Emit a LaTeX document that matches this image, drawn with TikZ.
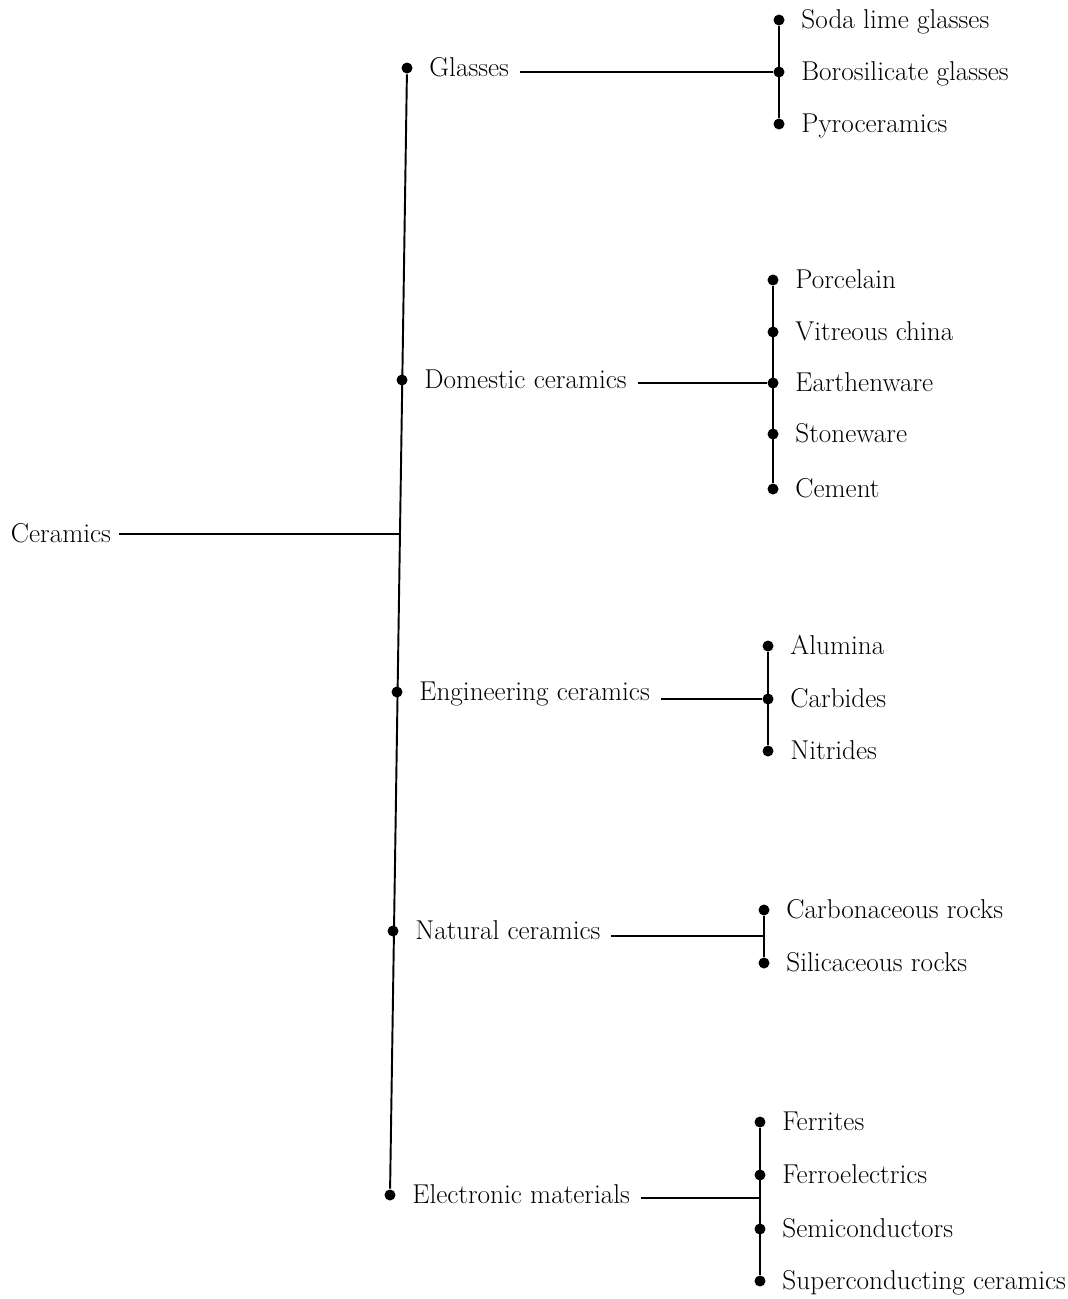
\documentclass[tikz,border=0pt]{standalone}
\usetikzlibrary{positioning,calc}
\tikzset{
  dot/.style={circle,fill=black,inner sep=0pt,minimum size=0.22cm},
  lbl/.style={inner sep=0pt,text height=12pt,text depth=2pt,font=\fontsize{15.5}{18}\selectfont},
}
\begin{document}
\begin{tikzpicture}[x=0.02cm,y=-0.02cm,line width=1.1pt]
\useasboundingbox (0,0) rectangle (1068,1299);
% root
\node[lbl,anchor=west] (ceramics) at (10,534) {Ceramics};
\coordinate (join) at (400,534);
% first level
\node[dot] (glasses) at (407,68) {};
\node[dot] (domestic) at (402,380) {};
\node[dot] (engineering) at (397,692) {};
\node[dot] (natural) at (393,931) {};
\node[dot] (electronic) at (390,1195) {};
\node[lbl,right=0.3cm of glasses] (lglasses) {Glasses};
\node[lbl,right=0.3cm of domestic] (ldomestic) {Domestic ceramics};
\node[lbl,right=0.3cm of engineering] (lengineering) {Engineering ceramics};
\node[lbl,right=0.3cm of natural] (lnatural) {Natural ceramics};
\node[lbl,right=0.3cm of electronic] (lelectronic) {Electronic materials};
\draw (glasses) -- (electronic);
\draw ([xshift=0.15cm]ceramics.east) -- (join);
% Glasses
\node[dot] (soda) at (779,20) {};
\node[dot] (boro) at (779,72) {};
\node[dot] (pyro) at (779,124) {};
\node[lbl,right=0.3cm of soda] {Soda lime glasses};
\node[lbl,right=0.3cm of boro] {Borosilicate glasses};
\node[lbl,right=0.3cm of pyro] {Pyroceramics};
\draw (soda) -- (pyro);
\draw ([xshift=0.2cm]lglasses.east |- boro) -- (boro);
% Domestic ceramics
\node[dot] (porcelain) at (773,280) {};
\node[dot] (china) at (773,332) {};
\node[dot] (earthen) at (773,383) {};
\node[dot] (stone) at (773,434) {};
\node[dot] (cement) at (773,489) {};
\node[lbl,right=0.3cm of porcelain] {Porcelain};
\node[lbl,right=0.3cm of china] {Vitreous china};
\node[lbl,right=0.3cm of earthen] {Earthenware};
\node[lbl,right=0.3cm of stone] {Stoneware};
\node[lbl,right=0.3cm of cement] {Cement};
\draw (porcelain) -- (cement);
\draw ([xshift=0.2cm]ldomestic.east |- earthen) -- (earthen);
% Engineering ceramics
\node[dot] (alumina) at (768,646) {};
\node[dot] (carbides) at (768,699) {};
\node[dot] (nitrides) at (768,751) {};
\node[lbl,right=0.3cm of alumina] {Alumina};
\node[lbl,right=0.3cm of carbides] {Carbides};
\node[lbl,right=0.3cm of nitrides] {Nitrides};
\draw (alumina) -- (nitrides);
\draw ([xshift=0.2cm]lengineering.east |- carbides) -- (carbides);
% Natural ceramics
\node[dot] (carbon) at (764,910) {};
\node[dot] (silic) at (764,963) {};
\node[lbl,right=0.3cm of carbon] {Carbonaceous rocks};
\node[lbl,right=0.3cm of silic] {Silicaceous rocks};
\coordinate (njoin) at (764,936);
\draw (carbon) -- (silic);
\draw ([xshift=0.2cm]lnatural.east |- njoin) -- (njoin);
% Electronic materials
\node[dot] (ferrites) at (760,1122) {};
\node[dot] (ferro) at (760,1175) {};
\node[dot] (semi) at (760,1229) {};
\node[dot] (super) at (760,1281) {};
\node[lbl,right=0.3cm of ferrites] {Ferrites};
\node[lbl,right=0.3cm of ferro] {Ferroelectrics};
\node[lbl,right=0.3cm of semi] {Semiconductors};
\node[lbl,right=0.3cm of super] {Superconducting ceramics};
\coordinate (ejoin) at ($(ferro)!0.43!(semi)$);
\draw (ferrites) -- (super);
\draw ([xshift=0.2cm]lelectronic.east |- ejoin) -- (ejoin);
\end{tikzpicture}
\end{document}
